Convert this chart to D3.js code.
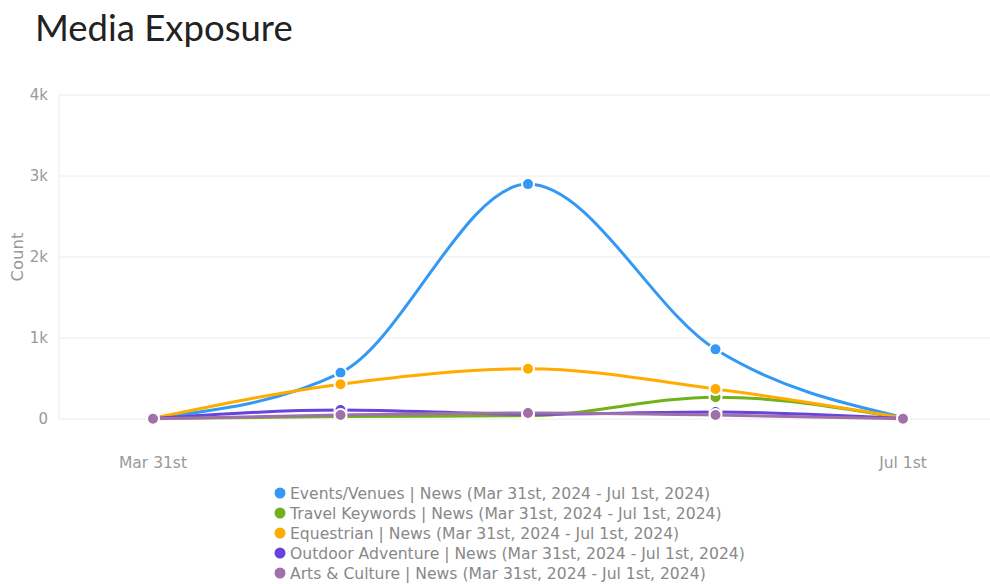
<!DOCTYPE html>
<html>
<head>
  <title>Media Exposure</title>
  <script src="https://d3js.org/d3.v7.min.js"></script>
  <style>
    body { margin: 0; background: #fff; }
  </style>
</head>
<body>
  <div id="chart"></div>
  <script>
    // data
    const dates = ["Mar 31st", "Apr 23rd", "May 16th", "Jun 8th", "Jul 1st"];
    const seriesNames = [
      "Events/Venues | News (Mar 31st, 2024 - Jul 1st, 2024)",
      "Travel Keywords | News (Mar 31st, 2024 - Jul 1st, 2024)",
      "Equestrian | News (Mar 31st, 2024 - Jul 1st, 2024)",
      "Outdoor Adventure | News (Mar 31st, 2024 - Jul 1st, 2024)",
      "Arts & Culture | News (Mar 31st, 2024 - Jul 1st, 2024)"
    ];
    const eventsVenues = [10, 570, 2900, 860, 20];
    const travelKeywords = [5, 30, 40, 270, 10];
    const equestrian = [10, 430, 620, 370, 15];
    const outdoorAdventure = [5, 110, 60, 85, 5];
    const artsCulture = [3, 50, 75, 50, 3];
    const colors = ["#3399f5", "#72b01c", "#ffab00", "#6644dd", "#a070a8"];
    const yTicks = [0, 1000, 2000, 3000, 4000];
    const xTickLabels = ["Mar 31st", "Jul 1st"];

    const allSeries = [eventsVenues, travelKeywords, equestrian, outdoorAdventure, artsCulture];

    const width = 990, height = 584;
    const svg = d3.select("#chart").append("svg")
      .attr("width", width).attr("height", height)
      .style("font-family", "'DejaVu Sans', sans-serif");

    svg.append("text")
      .attr("x", 35).attr("y", 41)
      .attr("font-family", "Lato, sans-serif")
      .attr("font-size", 36.5)
      .attr("fill", "#222")
      .text("Media Exposure");

    const plotLeft = 59, plotRight = 990;
    const x = d3.scalePoint().domain(dates).range([153, 903]);
    const y = d3.scaleLinear().domain([0, 4000]).range([419, 95]);

    // grid lines
    svg.append("g").selectAll("line").data(yTicks).join("line")
      .attr("x1", plotLeft).attr("x2", plotRight)
      .attr("y1", d => y(d)).attr("y2", d => y(d))
      .attr("stroke", "#ececec").attr("stroke-width", 1);

    svg.append("line")
      .attr("x1", plotLeft).attr("x2", plotLeft)
      .attr("y1", y(4000)).attr("y2", y(0))
      .attr("stroke", "#ececec");

    const fmt = d => d === 0 ? "0" : (d / 1000) + "k";
    svg.append("g").selectAll("text").data(yTicks).join("text")
      .attr("x", 48).attr("y", d => y(d) + 5)
      .attr("text-anchor", "end")
      .attr("font-size", 15)
      .attr("fill", "#999")
      .text(fmt);

    svg.append("text")
      .attr("transform", `translate(23,257) rotate(-90)`)
      .attr("text-anchor", "middle")
      .attr("font-size", 16.5)
      .attr("fill", "#999")
      .text("Count");

    svg.append("g").selectAll("text").data(xTickLabels).join("text")
      .attr("x", d => x(d)).attr("y", 468)
      .attr("text-anchor", "middle")
      .attr("font-size", 15.5)
      .attr("fill", "#999")
      .text(d => d);

    const line = d3.line()
      .x((d, i) => x(dates[i]))
      .y(d => y(d))
      .curve(d3.curveMonotoneX);

    allSeries.forEach((vals, si) => {
      const g = svg.append("g");
      g.append("path")
        .attr("d", line(vals))
        .attr("fill", "none")
        .attr("stroke", colors[si])
        .attr("stroke-width", 3);
      g.selectAll("circle").data(vals).join("circle")
        .attr("cx", (d, i) => x(dates[i]))
        .attr("cy", d => y(d))
        .attr("r", 6)
        .attr("fill", colors[si])
        .attr("stroke", "#fff")
        .attr("stroke-width", 2);
    });

    // legend
    const legend = svg.append("g").selectAll("g").data(seriesNames).join("g")
      .attr("transform", (d, i) => `translate(280, ${493 + i * 20})`);
    legend.append("circle").attr("r", 5.5).attr("fill", (d, i) => colors[i]);
    legend.append("text")
      .attr("x", 10).attr("y", 5.5)
      .attr("font-size", 15.6)
      .attr("fill", "#888")
      .text(d => d);
  </script>
</body>
</html>
